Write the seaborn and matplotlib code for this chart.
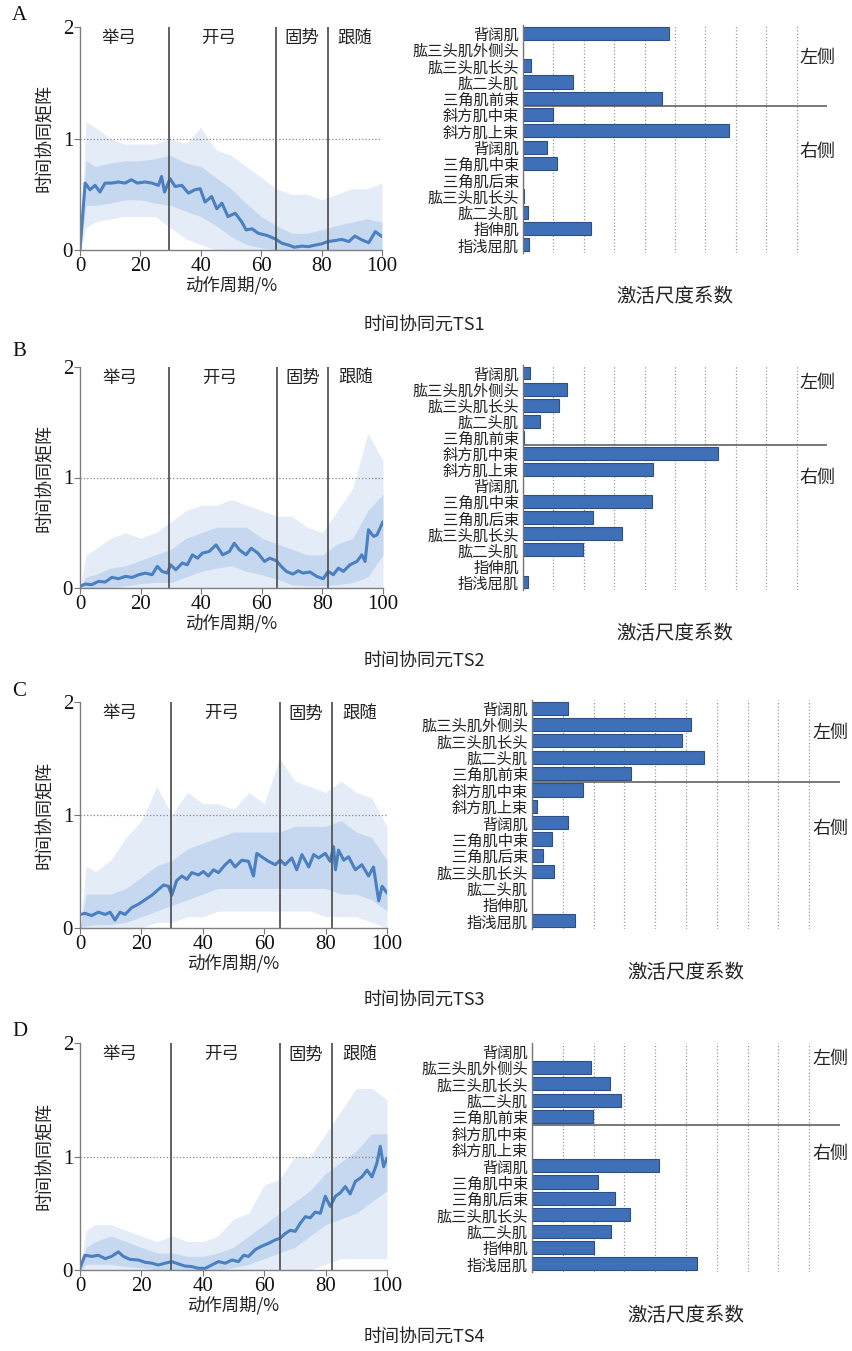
import numpy as np
import pandas as pd
import matplotlib
matplotlib.use("Agg")
import matplotlib.pyplot as plt
import seaborn as sns

sns.set_theme(style="ticks")
plt.rcParams['font.family'] = ['Noto Sans CJK SC', 'DejaVu Sans']

# ---------------- data ----------------
phase_bounds = [29.5, 65, 82]
phase_names = ['举弓', '开弓', '固势', '跟随']
phase_pos = [13, 46, 73.5, 91]

muscles = ['背阔肌', '肱三头肌外侧头', '肱三头肌长头', '肱二头肌', '三角肌前束',
           '斜方肌中束', '斜方肌上束', '背阔肌', '三角肌中束', '三角肌后束',
           '肱三头肌长头', '肱二头肌', '指伸肌', '指浅屈肌']

# mean time-synergy curves
A_x = [0, 1.7, 3.3, 5, 6.6, 8.3, 10.5, 12.7, 14.9, 17, 19, 21.5, 23.8, 26, 27, 28, 29.8, 31.5, 33.7,
       35.9, 38, 39.8, 41.4, 43.6, 45.3, 47, 49, 51.4, 53.6, 55, 57, 59, 62, 64.6, 66.9, 69, 71, 73.5, 75.7,
       78, 80, 82, 84.5, 86.7, 89, 91, 93.4, 95.6, 97.8, 100]
A_y = [0, 0.60, 0.54, 0.58, 0.52, 0.60, 0.60, 0.61, 0.60, 0.63, 0.60, 0.61, 0.60, 0.58, 0.66, 0.52, 0.64, 0.57, 0.58,
       0.51, 0.54, 0.55, 0.43, 0.48, 0.37, 0.42, 0.30, 0.33, 0.25, 0.18, 0.19, 0.15, 0.13, 0.10, 0.06, 0.045, 0.025, 0.035, 0.03,
       0.045, 0.055, 0.075, 0.085, 0.095, 0.075, 0.125, 0.09, 0.065, 0.165, 0.12]

B_x = [0, 1.7, 3.9, 6.1, 8.3, 10.5, 12.7, 15, 17.2, 19.4, 21.6, 23.8, 25.5, 27.1, 28.8, 29.9, 31.6, 33.8, 35.4, 37.1,
       38.8, 40.4, 42.6, 44.9, 47.1, 49.3, 50.9, 52.6, 54.8, 56.5, 58.7, 60.9, 62.6, 64.8, 66.4, 68.1, 70.3, 72, 73.6, 75.9,
       78.1, 80.3, 81.9, 83.6, 85.3, 86.9, 89.1, 91.4, 93, 94.1, 95.2, 96.9, 98, 100]
B_y = [0.015, 0.036, 0.03, 0.06, 0.054, 0.096, 0.084, 0.105, 0.096, 0.12, 0.135, 0.12, 0.196, 0.15, 0.135, 0.21, 0.165, 0.226, 0.21, 0.30,
       0.27, 0.316, 0.33, 0.39, 0.30, 0.33, 0.405, 0.345, 0.30, 0.36, 0.316, 0.24, 0.27, 0.247, 0.196, 0.15, 0.126, 0.156, 0.135, 0.145,
       0.105, 0.084, 0.15, 0.12, 0.18, 0.15, 0.21, 0.24, 0.30, 0.24, 0.527, 0.467, 0.48, 0.60]

C_x = [0, 1.6, 3.8, 6, 8.2, 9.8, 11.4, 13, 14.7, 16.8, 19, 21.2, 23.4, 25.5, 27.2, 28.8, 29.9, 31.5, 33.2, 34.8,
       36.4, 38.6, 40.2, 41.8, 43.5, 45.1, 47.3, 48.9, 50.5, 52.7, 54.9, 56.5, 57.6, 59.2, 61.4, 63.6, 65.2, 66.8, 69, 70.6,
       72.3, 74.5, 76.1, 77.7, 79.9, 81.5, 82.6, 83.2, 84.2, 85.9, 87.5, 89.7, 91.8, 94, 95.6, 97.3, 98.4, 100]
C_y = [0.118, 0.13, 0.11, 0.14, 0.12, 0.14, 0.07, 0.14, 0.12, 0.18, 0.21, 0.25, 0.29, 0.34, 0.38, 0.37, 0.29, 0.42, 0.46, 0.43,
       0.49, 0.47, 0.50, 0.46, 0.515, 0.49, 0.56, 0.60, 0.54, 0.60, 0.59, 0.46, 0.66, 0.63, 0.59, 0.56, 0.60, 0.56, 0.62, 0.515,
       0.65, 0.54, 0.65, 0.62, 0.66, 0.59, 0.72, 0.515, 0.69, 0.60, 0.63, 0.515, 0.56, 0.46, 0.54, 0.24, 0.37, 0.31]

D_x = [0, 1.6, 3.8, 6, 8.2, 10.3, 12.5, 14.1, 16.3, 19, 21.2, 23.4, 25.5, 27.7, 29.9, 32.1, 34.2, 36.4, 38.6, 40.8,
       42.9, 45.1, 47.3, 49.5, 51.6, 53.3, 54.9, 57.1, 59.2, 61.4, 63.6, 65.2, 66.8, 68.5, 70.1, 71.7, 73.4, 75, 76.6, 78.3,
       79.9, 81.5, 83.2, 84.8, 86.4, 88, 89.7, 91.8, 93.5, 95.1, 96.7, 97.8, 98.9, 100]
D_y = [0.015, 0.13, 0.12, 0.13, 0.10, 0.12, 0.16, 0.12, 0.094, 0.088, 0.068, 0.06, 0.044, 0.06, 0.074, 0.053, 0.035, 0.03, 0.015, 0.015,
       0.044, 0.074, 0.06, 0.088, 0.074, 0.13, 0.12, 0.18, 0.21, 0.235, 0.265, 0.28, 0.32, 0.35, 0.34, 0.41, 0.47, 0.46, 0.51, 0.50,
       0.65, 0.56, 0.65, 0.68, 0.735, 0.67, 0.78, 0.82, 0.88, 0.82, 0.94, 1.09, 0.91, 0.985]

# spread of the individual trials (read as envelopes)
env_x = [0, 2, 5, 10, 15, 20, 25, 30, 35, 40, 45, 50, 55, 60, 65, 70, 75, 80, 85, 90, 95, 100]
A_in_lo = [0, 0.40, 0.40, 0.42, 0.45, 0.45, 0.42, 0.40, 0.35, 0.30, 0.22, 0.12, 0.05, 0.02, 0, 0, 0, 0, 0, 0, 0, 0]
A_in_hi = [0, 0.80, 0.75, 0.78, 0.80, 0.80, 0.82, 0.85, 0.78, 0.75, 0.65, 0.55, 0.42, 0.30, 0.22, 0.15, 0.15, 0.18, 0.22, 0.25, 0.28, 0.25]
A_out_lo = [0, 0.20, 0.25, 0.28, 0.30, 0.30, 0.30, 0.20, 0.10, 0.05, 0, 0, 0, 0, 0, 0, 0, 0, 0, 0, 0, 0]
A_out_hi = [0, 1.15, 1.10, 1.00, 0.95, 0.95, 0.95, 1.00, 0.95, 1.10, 0.90, 0.85, 0.75, 0.65, 0.55, 0.50, 0.50, 0.45, 0.50, 0.55, 0.55, 0.60]

B_in_lo = [0, 0, 0, 0, 0.02, 0.04, 0.05, 0.05, 0.10, 0.15, 0.18, 0.20, 0.15, 0.12, 0.08, 0.03, 0.02, 0.02, 0.03, 0.05, 0.10, 0.30]
B_in_hi = [0, 0.10, 0.12, 0.18, 0.20, 0.25, 0.30, 0.35, 0.45, 0.50, 0.55, 0.55, 0.55, 0.45, 0.40, 0.35, 0.30, 0.30, 0.40, 0.45, 0.70, 0.85]
B_out_lo = [0] * 22
B_out_hi = [0, 0.30, 0.35, 0.45, 0.50, 0.45, 0.50, 0.60, 0.70, 0.75, 0.75, 0.80, 0.75, 0.70, 0.65, 0.65, 0.55, 0.50, 0.70, 0.90, 1.40, 1.15]

C_in_lo = [0, 0.02, 0.03, 0.03, 0.05, 0.10, 0.15, 0.20, 0.25, 0.30, 0.35, 0.35, 0.35, 0.35, 0.35, 0.35, 0.35, 0.35, 0.30, 0.30, 0.25, 0.15]
C_in_hi = [0, 0.30, 0.30, 0.30, 0.35, 0.45, 0.55, 0.60, 0.70, 0.75, 0.80, 0.85, 0.85, 0.85, 0.85, 0.90, 0.90, 0.90, 0.95, 0.85, 0.80, 0.60]
C_out_lo = [0, 0, 0, 0, 0, 0, 0.05, 0.05, 0.10, 0.10, 0.15, 0.15, 0.15, 0.15, 0.15, 0.15, 0.15, 0.10, 0.10, 0.10, 0.05, 0]
C_out_hi = [0, 0.55, 0.50, 0.60, 0.80, 0.95, 1.25, 1.00, 1.20, 1.10, 1.10, 1.05, 1.20, 1.10, 1.50, 1.30, 1.25, 1.20, 1.30, 1.20, 1.15, 0.90]

D_in_lo = [0, 0.05, 0.05, 0.05, 0.03, 0.02, 0, 0, 0, 0, 0, 0.02, 0.05, 0.10, 0.15, 0.20, 0.30, 0.40, 0.45, 0.50, 0.60, 0.70]
D_in_hi = [0, 0.20, 0.25, 0.30, 0.25, 0.20, 0.15, 0.15, 0.12, 0.12, 0.15, 0.20, 0.30, 0.40, 0.50, 0.60, 0.70, 0.85, 0.95, 1.05, 1.20, 1.20]
D_out_lo = [0, 0, 0, 0, 0, 0, 0, 0, 0, 0, 0, 0, 0, 0, 0, 0, 0, 0.05, 0.10, 0.10, 0.10, 0.10]
D_out_hi = [0, 0.35, 0.40, 0.40, 0.35, 0.30, 0.25, 0.30, 0.25, 0.25, 0.30, 0.45, 0.50, 0.75, 0.80, 1.00, 1.00, 1.20, 1.40, 1.60, 1.60, 1.50]

# activation scale coefficients (bars)
A_bar = [0.481, 0, 0.025, 0.164, 0.458, 0.10, 0.676, 0.078, 0.111, 0, 0.003, 0.015, 0.223, 0.019]
B_bar = [0.023, 0.146, 0.119, 0.056, 0.004, 0.64, 0.429, 0, 0.423, 0.23, 0.327, 0.199, 0, 0.018]
C_bar = [0.117, 0.517, 0.487, 0.559, 0.322, 0.166, 0.016, 0.117, 0.064, 0.035, 0.073, 0, 0, 0.139]
D_bar = [0, 0.191, 0.254, 0.288, 0.199, 0, 0, 0.411, 0.215, 0.27, 0.318, 0.257, 0.202, 0.535]

panels = [
    dict(letter='A', title='时间协同元TS1', x=A_x, y=A_y, ilo=A_in_lo, ihi=A_in_hi, olo=A_out_lo, ohi=A_out_hi, bar=A_bar,
         line_box=(80, 382, 27, 250), bar_box=(523, 827, 25, 253), left_y=1.5, right_y=7.3,
         letter_y=15, title_y=325),
    dict(letter='B', title='时间协同元TS2', x=B_x, y=B_y, ilo=B_in_lo, ihi=B_in_hi, olo=B_out_lo, ohi=B_out_hi, bar=B_bar,
         line_box=(80, 383, 367, 588), bar_box=(523, 827, 365, 590), left_y=0.6, right_y=6.5,
         letter_y=352, title_y=661),
    dict(letter='C', title='时间协同元TS3', x=C_x, y=C_y, ilo=C_in_lo, ihi=C_in_hi, olo=C_out_lo, ohi=C_out_hi, bar=C_bar,
         line_box=(80, 387, 702, 928), bar_box=(532, 840, 700, 929), left_y=1.5, right_y=7.4,
         letter_y=692, title_y=1000),
    dict(letter='D', title='时间协同元TS4', x=D_x, y=D_y, ilo=D_in_lo, ihi=D_in_hi, olo=D_out_lo, ohi=D_out_hi, bar=D_bar,
         line_box=(80, 387, 1043, 1270), bar_box=(532, 840, 1043, 1272), left_y=0.5, right_y=6.3,
         letter_y=1032, title_y=1337),
]

# ---------------- drawing ----------------
W, H = 853, 1351
fig = plt.figure(figsize=(W / 100, H / 100), dpi=100)
fig.patch.set_facecolor('white')

def rect(l, r, t, b):
    return [l / W, 1 - b / H, (r - l) / W, (b - t) / H]

serif = ['Liberation Serif', 'DejaVu Serif']
cjk = ['Noto Sans CJK SC', 'DejaVu Sans']
line_col = '#4a7fc1'
bar_col = '#3f6fb6'
bar_edge = '#2c4f86'
dark = '#555555'

for p in panels:
    # ---- line panel ----
    ax = fig.add_axes(rect(*p['line_box']))
    ax.fill_between(env_x, p['olo'], p['ohi'], color='#d3e0f2', alpha=0.6, lw=0)
    ax.fill_between(env_x, p['ilo'], p['ihi'], color='#9dbde6', alpha=0.42, lw=0)
    df = pd.DataFrame({'t': p['x'], 'v': p['y']})
    sns.lineplot(data=df, x='t', y='v', color=line_col, linewidth=2.2, ax=ax)
    ax.axhline(1, color='#888888', ls=':', lw=0.9)
    for xb in phase_bounds:
        ax.axvline(xb, color=dark, lw=1.3)
    for name, xp in zip(phase_names, phase_pos):
        ax.text(xp, 1.9, name, ha='center', va='center', fontsize=12.5, family=cjk, color='#222222')
    ax.set_xlim(0, 100)
    ax.set_ylim(0, 2)
    ax.set_xticks([0, 20, 40, 60, 80, 100])
    ax.set_yticks([0, 1, 2])
    ax.set_xticklabels(['0', '20', '40', '60', '80', '100'], family=serif, fontsize=15)
    ax.set_yticklabels(['0', '1', '2'], family=serif, fontsize=15)
    ax.tick_params(axis='both', length=4, width=0.8, color='#777777', pad=1, labelcolor='#111111')
    for s in ['top', 'right']:
        ax.spines[s].set_visible(False)
    for s in ['left', 'bottom']:
        ax.spines[s].set_color('#808080')
        ax.spines[s].set_linewidth(1.0)
    ax.set_xlabel('动作周期/%', fontsize=12.5, family=cjk, labelpad=0, color='#222222')
    ax.set_ylabel('时间协同矩阵', fontsize=13, family=cjk, labelpad=6, color='#222222')

    # ---- bar panel ----
    bx = fig.add_axes(rect(*p['bar_box']))
    bdf = pd.DataFrame({'id': [f'm{i:02d}' for i in range(len(muscles))], 'val': p['bar']})
    sns.barplot(data=bdf, x='val', y='id', orient='h', color=bar_col, edgecolor=bar_edge,
                linewidth=0.8, width=0.8, saturation=1, ax=bx)
    bx.set_xlim(0, 1.0)
    bx.set_ylim(len(muscles) - 0.5, -0.5)
    bx.set_xticks(np.arange(1, 10) / 10)
    bx.set_xticklabels([])
    bx.set_axisbelow(True)
    bx.xaxis.grid(True, ls=':', color='#9a9a9a', lw=0.9)
    bx.set_yticks(range(len(muscles)))
    bx.set_yticklabels(muscles, family=cjk, fontsize=11, color='#222222')
    bx.tick_params(axis='both', length=0, pad=3)
    for s in ['top', 'right', 'bottom']:
        bx.spines[s].set_visible(False)
    bx.spines['left'].set_color('#777777')
    bx.spines['left'].set_linewidth(1.0)
    bx.axhline(4.5, color=dark, lw=1.1)
    bx.set_xlabel('激活尺度系数', fontsize=14, family=cjk, labelpad=21, color='#222222')
    bx.set_ylabel('')
    bx.text(0.97, p['left_y'], '左侧', ha='center', va='center', fontsize=13, family=cjk,
            color='#222222', clip_on=False)
    bx.text(0.97, p['right_y'], '右侧', ha='center', va='center', fontsize=13, family=cjk,
            color='#222222', clip_on=False)

    # ---- figure-level texts ----
    fig.text(12 / W, 1 - p['letter_y'] / H, p['letter'], family=serif, fontsize=15,
             ha='left', va='center', color='#111111')
    fig.text(424 / W, 1 - p['title_y'] / H, p['title'], family=cjk, fontsize=13,
             ha='center', va='center', color='#222222')

fig.savefig('out.png', dpi=100, facecolor='white')
